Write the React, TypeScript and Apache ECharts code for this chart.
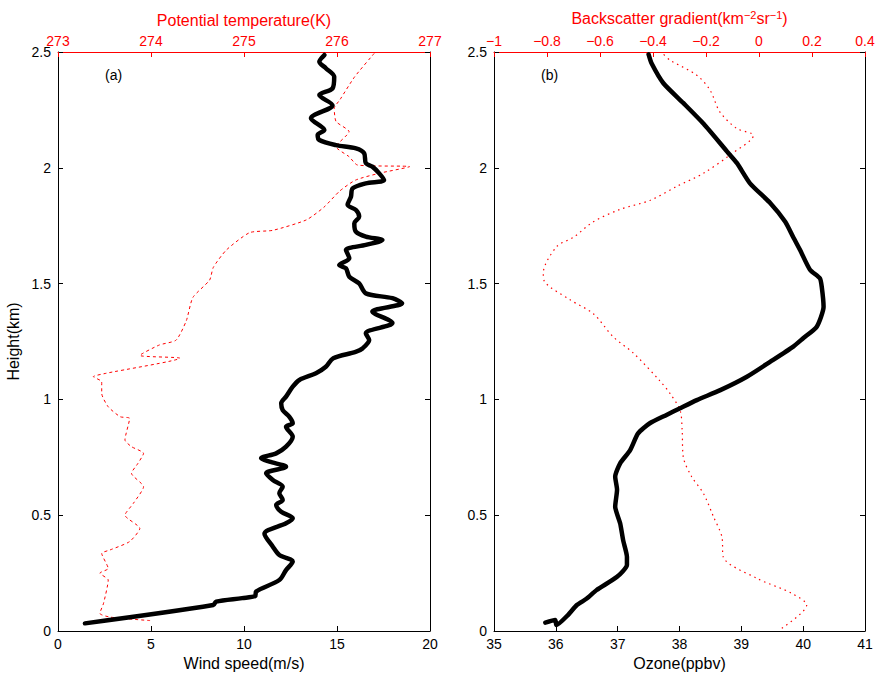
import React, { useEffect, useRef } from "react";
import * as echarts from "echarts";

// Panel (a): wind speed (m/s) vs height (km)
const windSpeed = [1.45, 8.35, 8.5, 9.9, 10.6, 10.65, 11.9, 12.26, 12.62, 11.9, 11.55, 11.1, 12.26, 12.62, 12.0, 11.73, 12.08, 11.9, 12.08, 11.55, 11.19, 12.26, 11.37, 10.92, 11.73, 12.26, 12.62, 12.26, 12.62, 12.44, 12.08, 12.0, 12.26, 12.62, 12.98, 13.87, 14.4, 14.8, 16.0, 16.37, 16.73, 16.55, 17.98, 16.9, 18.5, 17.98, 16.55, 16.19, 15.66, 15.48, 15.12, 15.66, 15.48, 16.55, 17.44, 16.55, 16.02, 15.93, 16.19, 16.02, 15.57, 15.75, 15.84, 16.55, 17.53, 17.27, 16.9, 16.55, 16.46, 16.02, 14.94, 14.05, 13.96, 14.32, 13.6, 14.76, 14.05, 14.76, 14.85, 14.4, 14.05, 14.32];
const windHeight = [0.033, 0.112, 0.127, 0.142, 0.151, 0.17, 0.22, 0.263, 0.3, 0.328, 0.364, 0.42, 0.465, 0.487, 0.515, 0.544, 0.566, 0.595, 0.623, 0.652, 0.681, 0.709, 0.731, 0.746, 0.767, 0.796, 0.839, 0.882, 0.897, 0.925, 0.954, 0.983, 1.012, 1.055, 1.084, 1.113, 1.141, 1.178, 1.205, 1.22, 1.256, 1.285, 1.33, 1.379, 1.415, 1.437, 1.458, 1.501, 1.53, 1.566, 1.58, 1.609, 1.645, 1.667, 1.688, 1.703, 1.724, 1.76, 1.789, 1.818, 1.84, 1.875, 1.911, 1.933, 1.947, 1.976, 2.005, 2.02, 2.063, 2.084, 2.098, 2.12, 2.142, 2.163, 2.214, 2.27, 2.314, 2.343, 2.393, 2.43, 2.458, 2.487];

// Panel (a): potential temperature (K) vs height (km)
const potTemp = [273.99, 273.56, 273.45, 273.49, 273.54, 273.45, 273.54, 273.47, 273.56, 273.77, 273.88, 273.72, 273.81, 273.92, 273.79, 273.86, 273.92, 273.79, 273.72, 273.77, 273.67, 273.54, 273.47, 273.47, 273.38, 273.52, 274.31, 273.88, 274.09, 274.27, 274.38, 274.45, 274.63, 274.67, 274.81, 275.06, 275.31, 275.67, 275.86, 276.03, 276.2, 276.45, 276.78, 276.22, 276.13, 275.99, 276.13, 275.99, 275.97, 276.03, 276.19, 276.4];
const potHeight = [0.045, 0.06, 0.076, 0.12, 0.22, 0.25, 0.27, 0.335, 0.35, 0.386, 0.443, 0.5, 0.551, 0.623, 0.681, 0.724, 0.767, 0.796, 0.825, 0.918, 0.925, 0.968, 1.026, 1.076, 1.098, 1.113, 1.178, 1.19, 1.235, 1.256, 1.34, 1.44, 1.515, 1.57, 1.645, 1.72, 1.73, 1.775, 1.83, 1.9, 1.947, 1.976, 2.005, 2.012, 2.048, 2.091, 2.156, 2.2, 2.257, 2.293, 2.393, 2.494];

// Panel (b): ozone (ppbv) vs height (km)
const ozone = [35.83, 35.99, 36.01, 36.2, 36.34, 36.5, 36.66, 36.99, 37.15, 37.15, 37.09, 37.04, 36.96, 36.99, 36.96, 37.04, 37.2, 37.33, 37.52, 37.79, 38.01, 38.28, 38.66, 39.09, 39.47, 39.84, 40.0, 40.22, 40.33, 40.3, 40.27, 40.11, 39.95, 39.84, 39.71, 39.47, 39.14, 38.93, 38.77, 38.39, 38.06, 37.74, 37.55, 37.5];
const ozoneHeight = [0.036, 0.047, 0.026, 0.07, 0.112, 0.14, 0.177, 0.234, 0.285, 0.32, 0.39, 0.465, 0.537, 0.61, 0.666, 0.724, 0.78, 0.853, 0.897, 0.933, 0.962, 0.997, 1.04, 1.098, 1.163, 1.228, 1.264, 1.314, 1.4, 1.487, 1.523, 1.56, 1.645, 1.7, 1.767, 1.847, 1.933, 2.02, 2.07, 2.19, 2.28, 2.365, 2.45, 2.49];

// Panel (b): backscatter gradient (km^-2 sr^-1) vs height (km)
const backscatter = [0.086, 0.18, 0.123, -0.009, -0.135, -0.14, -0.172, -0.21, -0.254, -0.286, -0.29, -0.298, -0.336, -0.374, -0.474, -0.55, -0.625, -0.713, -0.81, -0.814, -0.763, -0.7, -0.625, -0.525, -0.41, -0.31, -0.21, -0.11, -0.021, -0.084, -0.147, -0.185, -0.235, -0.336, -0.36];
const backHeight = [0.012, 0.112, 0.163, 0.228, 0.32, 0.407, 0.494, 0.595, 0.666, 0.753, 0.868, 0.954, 1.026, 1.08, 1.2, 1.27, 1.37, 1.43, 1.51, 1.545, 1.66, 1.7, 1.767, 1.82, 1.86, 1.92, 1.976, 2.055, 2.14, 2.17, 2.24, 2.336, 2.4, 2.465, 2.49];

const FONT = "'Liberation Sans', Arial, Helvetica, sans-serif";
const RED = "#ff0000";

const pairs = (xs: number[], ys: number[]) => xs.map((v, i) => [v, ys[i]]);
const minus = (v: number) => String(Math.round(v * 10) / 10).replace("-", "\u2212");

export default function App() {
  const ref = useRef<HTMLDivElement>(null);
  useEffect(() => {
    if (!ref.current) return;
    const chart = echarts.init(ref.current, null, { renderer: "svg" });
    const blackAxis = {
      axisLine: { show: true, onZero: false, lineStyle: { color: "#000", width: 1 } },
      axisTick: { show: true, inside: true, length: 5, lineStyle: { color: "#000" } },
      axisLabel: { color: "#000", fontSize: 14, fontFamily: FONT, margin: 6 },
      splitLine: { show: false },
    };
    const redAxis = {
      axisLine: { show: true, onZero: false, lineStyle: { color: RED, width: 1 } },
      axisTick: { show: true, inside: true, length: 5, lineStyle: { color: RED } },
      axisLabel: { color: RED, fontSize: 14, fontFamily: FONT, margin: 4 },
      splitLine: { show: false },
    };
    const yLeft = (gridIndex: number) => ({
      type: "value",
      gridIndex,
      min: 0,
      max: 2.5,
      interval: 0.5,
      position: "left",
      ...blackAxis,
      axisLabel: { ...blackAxis.axisLabel, margin: 7 },
    });
    const yRight = (gridIndex: number) => ({
      type: "value",
      gridIndex,
      min: 0,
      max: 2.5,
      interval: 0.5,
      position: "right",
      ...blackAxis,
      axisLabel: { show: false },
    });
    chart.setOption({
      animation: false,
      backgroundColor: "#fff",
      textStyle: { fontFamily: FONT },
      grid: [
        { left: 58, top: 52, width: 372, height: 579, outerBoundsMode: "none", containLabel: false },
        { left: 494, top: 52, width: 371, height: 579, outerBoundsMode: "none", containLabel: false },
      ],
      xAxis: [
        {
          type: "value", gridIndex: 0, min: 0, max: 20, interval: 5, position: "bottom",
          ...blackAxis,
          name: "Wind speed(m/s)", nameLocation: "middle", nameGap: 23,
          nameTextStyle: { color: "#000", fontSize: 16, fontFamily: FONT },
        },
        {
          type: "value", gridIndex: 0, min: 273, max: 277, interval: 1, position: "top",
          ...redAxis,
          name: "Potential temperature(K)", nameLocation: "middle", nameGap: 24,
          nameTextStyle: { color: RED, fontSize: 16, fontFamily: FONT },
        },
        {
          type: "value", gridIndex: 1, min: 35, max: 41, interval: 1, position: "bottom",
          ...blackAxis,
          name: "Ozone(ppbv)", nameLocation: "middle", nameGap: 23,
          nameTextStyle: { color: "#000", fontSize: 16, fontFamily: FONT },
        },
        {
          type: "value", gridIndex: 1, min: -1, max: 0.4, interval: 0.2, position: "top",
          ...redAxis,
          axisLabel: { ...redAxis.axisLabel, formatter: (v: number) => minus(v) },
          name: "Backscatter gradient(km{sup|\u22122}sr{sup|\u22121})", nameLocation: "middle", nameGap: 24,
          nameTextStyle: {
            color: RED, fontSize: 16, fontFamily: FONT,
            rich: { sup: { color: RED, fontSize: 11, fontFamily: FONT, verticalAlign: "bottom", padding: [0, 0, 8, 0] } },
          },
        },
      ],
      yAxis: [
        {
          ...yLeft(0),
          name: "Height(km)", nameLocation: "middle", nameGap: 37,
          nameTextStyle: { color: "#000", fontSize: 16, fontFamily: FONT },
        },
        yRight(0),
        yLeft(1),
        yRight(1),
      ],
      series: [
        {
          type: "line", xAxisIndex: 1, yAxisIndex: 0, data: pairs(potTemp, potHeight),
          showSymbol: false, symbol: "none", smooth: 0.2,
          lineStyle: { color: RED, width: 1, type: [3, 3] }, z: 2,
        },
        {
          type: "line", xAxisIndex: 0, yAxisIndex: 0, data: pairs(windSpeed, windHeight),
          showSymbol: false, symbol: "none", smooth: 0.3,
          lineStyle: { color: "#000", width: 4.5, cap: "round", join: "round" }, z: 3,
        },
        {
          type: "line", xAxisIndex: 3, yAxisIndex: 2, data: pairs(backscatter, backHeight),
          showSymbol: false, symbol: "none", smooth: 0.3,
          lineStyle: { color: RED, width: 1.2, type: [1.5, 4] }, z: 2,
        },
        {
          type: "line", xAxisIndex: 2, yAxisIndex: 2, data: pairs(ozone, ozoneHeight),
          showSymbol: false, symbol: "none", smooth: 0.2,
          lineStyle: { color: "#000", width: 4.5, cap: "round", join: "round" }, z: 3,
        },
      ],
      graphic: [
        { type: "text", left: 105, top: 68, style: { text: "(a)", fontSize: 14, fontFamily: FONT, fill: "#000" } },
        { type: "text", left: 541, top: 68, style: { text: "(b)", fontSize: 14, fontFamily: FONT, fill: "#000" } },
      ],
    });
    return () => chart.dispose();
  }, []);
  return <div ref={ref} style={{ position: "fixed", left: 0, top: 0, width: 878, height: 677 }} />;
}
